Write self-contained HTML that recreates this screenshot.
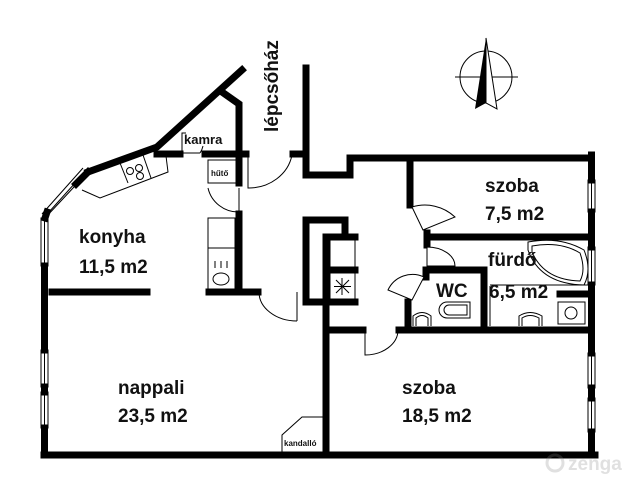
<!DOCTYPE html>
<html><head><meta charset="utf-8"><style>
html,body{margin:0;padding:0;background:#fff;}
svg{display:block}
text{font-family:"Liberation Sans","DejaVu Sans",sans-serif;font-weight:bold;fill:#111}
</style></head><body>
<svg width="640" height="480" viewBox="0 0 640 480" xmlns="http://www.w3.org/2000/svg">
<g fill="none" stroke="#000" stroke-width="1">
<!-- windows -->
<rect x="41" y="218" width="7" height="48" fill="#fff"/>
<line x1="44.5" y1="218" x2="44.5" y2="266"/>
<rect x="41" y="350" width="7" height="37" fill="#fff"/>
<rect x="41" y="392" width="7" height="36" fill="#fff"/>
<line x1="44.5" y1="350" x2="44.5" y2="428"/>
<rect x="588" y="180" width="7" height="32" fill="#fff"/>
<rect x="588" y="247" width="7" height="38" fill="#fff"/>
<rect x="588" y="353" width="7" height="35" fill="#fff"/>
<rect x="588" y="398" width="7" height="34" fill="#fff"/>
<line x1="591.5" y1="180" x2="591.5" y2="212"/>
<line x1="591.5" y1="247" x2="591.5" y2="285"/>
<line x1="591.5" y1="353" x2="591.5" y2="432"/>
<path d="M88,172 L45,218 M83,168 L42,214" />
<path d="M76,182 L49,212"/>
</g>
<g fill="none" stroke="#000" stroke-width="7" stroke-linejoin="miter" stroke-linecap="square">
<!-- outer diagonal -->
<polyline points="242,70 157,147 88,172"/>
<polyline points="88,172 76,184" />
<polyline points="47,212 45,218"/>
<line x1="44.5" y1="266" x2="44.5" y2="350"/>
<line x1="44.5" y1="387" x2="44.5" y2="392"/>
<line x1="44.5" y1="428" x2="44.5" y2="455"/>
<line x1="44" y1="455" x2="595" y2="455"/>
<line x1="591.5" y1="155" x2="591.5" y2="180"/>
<line x1="591.5" y1="212" x2="591.5" y2="247"/>
<line x1="591.5" y1="285" x2="591.5" y2="353"/>
<line x1="591.5" y1="388" x2="591.5" y2="398"/>
<line x1="591.5" y1="432" x2="591.5" y2="455"/>
<!-- kamra branch -->
<polyline points="222,92 239,104 239,183"/>
<line x1="157" y1="154" x2="180" y2="154"/>
<line x1="205" y1="154" x2="246" y2="154"/>
<line x1="293" y1="154" x2="302" y2="154"/>
<!-- stairs -->
<polyline points="306,68 306,175 350,175 350,158 591,158"/>
<!-- kitchen right wall -->
<line x1="239" y1="214" x2="239" y2="292"/>
<line x1="209" y1="292" x2="258" y2="292"/>
<line x1="52" y1="292" x2="147" y2="292"/>
<!-- core -->
<polyline points="306,302 306,220 345,220 345,234"/>
<polyline points="326,452 326,237 355,237"/>
<line x1="330" y1="270" x2="355" y2="270"/>
<line x1="306" y1="302" x2="355" y2="302"/>
<line x1="326" y1="330" x2="363" y2="330"/>
<line x1="399" y1="330" x2="591" y2="330"/>
<!-- szoba 7.5 -->
<line x1="410" y1="158" x2="410" y2="205"/>
<line x1="427" y1="237" x2="591" y2="237"/>
<line x1="427" y1="233" x2="427" y2="245"/>
<polyline points="426,277 426,270 484,270 484,330"/>
<line x1="408" y1="302" x2="408" y2="330"/>
<line x1="560" y1="294" x2="591" y2="294"/>
</g>
<g fill="none" stroke="#000" stroke-width="1">
<!-- kitchen counter -->
<polyline points="82,190 100,198 168,172 166,156"/>
<line x1="120" y1="163" x2="128" y2="183"/>
<line x1="143" y1="155" x2="151" y2="178"/>
<circle cx="130" cy="171" r="3.5"/><circle cx="139" cy="168" r="3.5"/><circle cx="140" cy="176" r="3.5"/>
<!-- kamra box -->
<polyline points="182,153 182,133 186,133"/>
<path d="M182,153 L200,153 M200,153 A20,20 0 0 0 203,146"/>
<!-- hutő -->
<rect x="208" y="160" width="28" height="23"/>
<path d="M239,188 L239,212 M208,188 A31,31 0 0 0 239,212"/>
<!-- stair door -->
<path d="M248,155 L248,188 A44,40 0 0 0 292,155"/>
<!-- counter -->
<rect x="208" y="218" width="27" height="74"/>
<line x1="208" y1="248" x2="235" y2="248"/>
<ellipse cx="221" cy="279" rx="8" ry="6"/>
<line x1="215" y1="261" x2="215" y2="268"/><line x1="221" y1="261" x2="221" y2="268"/><line x1="227" y1="261" x2="227" y2="268"/>
<!-- nappali door -->
<path d="M297,292 L297,321 M259,292 A38,29 0 0 0 297,321"/>
<!-- core star box -->
<rect x="330" y="240" width="25" height="30"/>
<rect x="330" y="273" width="25" height="26"/>
<path d="M336,280 L349,293 M349,280 L336,293 M342,278 L342,295 M334,286.5 L351,286.5"/>
<!-- szoba bottom door -->
<path d="M365,330 L365,355 A33,25 0 0 0 398,330"/>
<!-- szoba 7.5 door -->
<path d="M423,230 L412,207 A44,44 0 0 1 455,217 Z" fill="#fff"/>
<!-- fürdő door -->
<path d="M427,247 L427,266 L455,266 A28,19 0 0 0 427,247" fill="#fff"/>
<!-- WC door -->
<path d="M424,277 L412,300 L388,290 A27,27 0 0 1 424,277 Z" fill="#fff"/>
<!-- WC toilet -->
<path d="M447,302 L470,302 L470,318 L447,318 A8,8 0 0 1 447,302 Z"/>
<path d="M449,305 L467,305 L467,315 L449,315 A5,5 0 0 1 449,305 Z"/>
<path d="M413,326 L413,316 Q422,309 431,316 L431,326"/>
<path d="M416,326 L416,318 Q422,313 428,318 L428,326"/>
<!-- fürdő -->
<line x1="490" y1="286" x2="490" y2="326"/>
<line x1="490" y1="285" x2="588" y2="285"/>
<path d="M528,242 Q560,236 584,250 Q592,270 584,285 Q540,284 528,250 Z"/>
<path d="M532,246 Q560,241 580,253 Q586,270 580,281 Q544,280 532,252 Z"/>
<rect x="558" y="302" width="27" height="22"/>
<circle cx="571" cy="313" r="6"/>
<path d="M519,326 L519,316 Q530,309 542,316 L542,326"/>
<path d="M522,326 L522,318 Q530,313 539,318 L539,326"/>
<!-- kandallo -->
<polyline points="282,452 282,435 302,417 324,417"/>
<!-- compass -->
<circle cx="486" cy="77" r="26"/>
<line x1="455" y1="77" x2="518" y2="77"/>
</g>
<path d="M486,38 L475,109 L486,103 Z" fill="#000"/>
<path d="M486,38 L497,109 L486,103 Z" fill="#fff" stroke="#000" stroke-width="1"/>
<text x="79" y="243" font-size="19">konyha</text>
<text x="79" y="273" font-size="19">11,5 m2</text>
<text x="118" y="394" font-size="19">nappali</text>
<text x="118" y="422" font-size="19">23,5 m2</text>
<text x="402" y="394" font-size="19">szoba</text>
<text x="402" y="422" font-size="19">18,5 m2</text>
<text x="485" y="192" font-size="19">szoba</text>
<text x="485" y="220" font-size="19">7,5 m2</text>
<text x="488" y="266" font-size="19">fürdő</text>
<text x="489" y="298" font-size="19">6,5 m2</text>
<text x="436" y="297" font-size="19">WC</text>
<text x="184" y="144" font-size="13">kamra</text>
<text x="211" y="176" font-size="8">hűtő</text>
<text x="284" y="446" font-size="8">kandalló</text>
<text transform="translate(278,132) rotate(-90)" font-size="19">lépcsőház</text>
<g opacity="0.25">
<circle cx="555" cy="463" r="8" fill="none" stroke="#888" stroke-width="3"/>
<text x="568" y="470" font-size="19" style="fill:#888">zenga</text>
</g>
</svg>
</body></html>
